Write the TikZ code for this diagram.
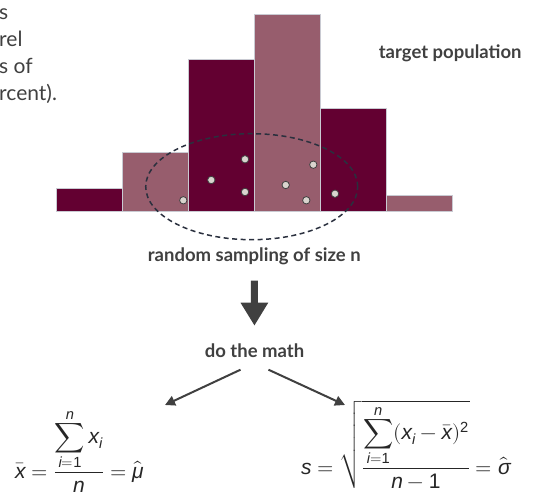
\documentclass[tikz,border=0pt]{standalone}
\usepackage{fontspec}
\usepackage{unicode-math}
\setmainfont{Lato}
\setmathfont{Latin Modern Math}
\setmathfont[range={up/num}]{Liberation Sans}
\setmathfont[range={it->up}]{Liberation Sans Italic}
\usetikzlibrary{arrows.meta,positioning,shapes.geometric}
\definecolor{maroondark}{HTML}{630031}
\definecolor{maroonlight}{HTML}{975D6D}
\definecolor{barline}{HTML}{C9CAD2}
\definecolor{inkgray}{HTML}{404040}
\definecolor{dotfill}{HTML}{D9D4CE}
\definecolor{ringnavy}{HTML}{2A303E}
\tikzset{
  darkbar/.style={fill=maroondark, draw=barline, line width=1pt},
  lightbar/.style={fill=maroonlight, draw=barline, line width=1pt},
  sampledot/.style={circle, fill=dotfill, draw=inkgray, line width=0.8pt, minimum size=7.4pt, inner sep=0pt},
  samplering/.style={ellipse, draw=ringnavy, dash pattern=on 5pt off 3.5pt, line width=1.5pt, minimum width=212pt, minimum height=106pt, inner sep=0pt},
  steplabel/.style={font=\fontsize{18.5}{22}\selectfont\bfseries, text=inkgray, inner sep=0pt},
  bigarrow/.style={-{Triangle[length=23pt,width=26pt]}, line width=7pt, draw=inkgray},
  smallarrow/.style={-{Triangle[length=10pt,width=10pt]}, line width=2pt, draw=inkgray},
  formula/.style={font=\fontsize{21}{25}\selectfont, text=black!85, inner sep=0pt}
}
\begin{document}
\begin{tikzpicture}[x=1pt, y=-1pt]
\useasboundingbox (0,0) rectangle (533,492);
% cut-off note at the top left
\node[anchor=north west, align=left, inner sep=0pt, text=inkgray, font=\fontsize{21}{27}\selectfont] (note) at (-1,8) {s\\rel\\s of\\rcent).};
% population histogram
\draw[darkbar] (56.7,211.7) rectangle (122.3,189);
\draw[lightbar] (122.3,211.7) rectangle (188.3,152.3);
\draw[darkbar] (188.3,211.7) rectangle (254.3,60);
\draw[lightbar] (254.3,211.7) rectangle (320.7,15);
\draw[darkbar] (320.7,211.7) rectangle (386.7,108.3);
\draw[lightbar] (386.7,211.7) rectangle (452.7,195);
\node[steplabel] (target) at (450.2,53) {target population};
% the sample
\node[samplering] (sample) at (251.7,186.7) {};
\node[sampledot] (d1) at (183.3,200.3) {};
\node[sampledot] (d2) at (211.3,180) {};
\node[sampledot] (d3) at (245,159.3) {};
\node[sampledot] (d4) at (245,192) {};
\node[sampledot] (d5) at (285.7,185) {};
\node[sampledot] (d6) at (306.3,200.3) {};
\node[sampledot] (d7) at (313.3,164.7) {};
\node[sampledot] (d8) at (335,193.7) {};
\node[steplabel] (sampling) at (254.3,256.7) {random sampling of size n};
\node[steplabel] (math) at (254.5,350.7) {do the math};
\draw[bigarrow, shorten <=24pt, shorten >=25pt] (sampling.center) -- (math.center);
% estimators
\node[formula, anchor=base west] (meanf) at (15,478) {$\displaystyle \bar{x} = \frac{\displaystyle\sum_{i=1}^{n} x_i}{n} = \hat{\mu}$};
\node[formula, anchor=base west] (sdf) at (301,474) {$\displaystyle s = \sqrt{\frac{\displaystyle\sum_{i=1}^{n} (x_i - \bar{x})^2}{n-1}} = \hat{\sigma}$};
\coordinate (meantip) at (165,405);
\coordinate (sdtip) at (345,405);
\draw[smallarrow] ([xshift=-14pt,yshift=-19pt]math.center) -- (meantip);
\draw[smallarrow] ([xshift=14pt,yshift=-19pt]math.center) -- (sdtip);
\end{tikzpicture}
\end{document}
